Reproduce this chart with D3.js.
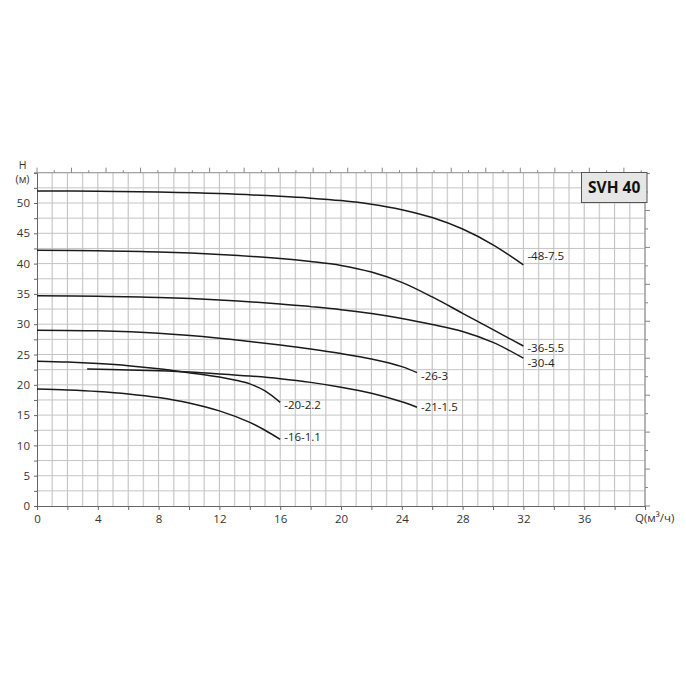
<!DOCTYPE html>
<html><head><meta charset="utf-8">
<script src="https://cdn.jsdelivr.net/npm/d3@7"></script>
<style>
html,body{margin:0;padding:0;background:#fff;}
svg{display:block;font-family:"Open Sans","DejaVu Sans",sans-serif;}
</style></head>
<body><svg id="chart" width="686" height="686"></svg>
<script>
// ---- data ----
const seriesNames = ["-48-7.5","-36-5.5","-30-4","-26-3","-21-1.5","-20-2.2","-16-1.1"];
const q48 = [0,4,8,12,16,18,20,22,24,26,28,30,32];
const h48 = [52.0,51.95,51.8,51.55,51.1,50.8,50.4,49.8,48.9,47.6,45.7,43.1,39.8];
const q36 = [0,4,8,12,16,18,20,22,24,26,28,30,32];
const h36 = [42.2,42.1,41.9,41.5,40.85,40.35,39.7,38.6,36.9,34.5,31.8,29.1,26.4];
const q30 = [0,4,8,12,16,18,20,22,24,26,28,30,32];
const h30 = [34.7,34.6,34.4,34.0,33.35,32.9,32.4,31.75,30.95,29.95,28.8,27.0,24.4];
const q26 = [0,4,8,12,14,16,18,20,22,24,25];
const h26 = [29.0,28.9,28.5,27.7,27.15,26.55,25.9,25.15,24.25,23.0,22.0];
const q21 = [3.3,6,8,10,12,14,16,18,20,22,24,25];
const h21 = [22.6,22.45,22.3,22.1,21.8,21.45,21.0,20.4,19.6,18.6,17.2,16.3];
const q20 = [0,2,4,6,8,10,12,13,14,15,16];
const h20 = [23.9,23.75,23.5,23.15,22.65,22.0,21.3,20.8,20.15,19.0,17.1];
const q16 = [0,2,4,6,8,10,12,14,15,16];
const h16 = [19.3,19.15,18.9,18.5,17.9,17.0,15.7,13.8,12.5,11.0];
const xTicks = [0,4,8,12,16,20,24,28,32,36];
const yTicks = [0,5,10,15,20,25,30,35,40,45,50];
const titleText = "SVH 40";
const xUnitLabel = "Q(м³/ч)";
const yUnitLabel = ["H","(м)"];

// ---- layout / style ----
const labelDy = {"-48-7.5":-9,"-36-5.5":1.5,"-30-4":4.5,"-26-3":3,"-21-1.5":0,"-20-2.2":3,"-16-1.1":-2};
const L = 37, R = 645, T = 172.7, B = 506;
const x = d3.scaleLinear().domain([0,40]).range([L,R]);
const y = d3.scaleLinear().domain([0,55]).range([B,T]);
const svg = d3.select("#chart");
const FONT = "'Open Sans','DejaVu Sans',sans-serif";

// grid
const g = svg.append("g");
g.selectAll("line.v").data(d3.range(1,41)).enter().append("line")
  .attr("x1",d=>x(d)).attr("x2",d=>x(d)).attr("y1",T).attr("y2",B)
  .attr("stroke",d=>d%2? "#d0d0d0":"#bdbdbd").attr("stroke-width",d=>d%2?1.4:1);
g.selectAll("line.h").data(d3.range(1,23).map(i=>i*2.5)).enter().append("line")
  .attr("x1",L).attr("x2",R).attr("y1",d=>y(d)).attr("y2",d=>y(d))
  .attr("stroke","#c4c4c4").attr("stroke-width",1);

// secondary axes (US gpm on top, ft on right) - ticks only
const gpmPerM3h = 4.4029;
const xg = d3.scaleLinear().domain([0,40*gpmPerM3h]).range([L,R]);
const ftPerM = 1/0.3048;
const yf = d3.scaleLinear().domain([0,55*ftPerM]).range([B,T]);
svg.append("line").attr("x1",L).attr("x2",R).attr("y1",T).attr("y2",T).attr("stroke","#9a9a9a");
svg.selectAll("line.tg").data(d3.range(0,40*gpmPerM3h,5)).enter().append("line")
  .attr("x1",d=>xg(d)).attr("x2",d=>xg(d)).attr("y1",T).attr("y2",d=>T-(d%10===0?5:2.5))
  .attr("stroke","#888");
svg.append("line").attr("x1",R).attr("x2",R).attr("y1",T).attr("y2",B).attr("stroke","#8a8a8a");
svg.selectAll("line.rf").data(d3.range(0,55*ftPerM,10)).enter().append("line")
  .attr("y1",d=>yf(d)).attr("y2",d=>yf(d)).attr("x1",R).attr("x2",d=>R+(d%20===0?5:3))
  .attr("stroke","#888");

// primary axes
const xAxis = d3.axisBottom(x).tickValues(d3.range(0,41,2)).tickSize(4)
  .tickFormat(d=> xTicks.includes(d)? d : "");
const ax = svg.append("g").attr("transform",`translate(0,${B})`).call(xAxis);
ax.select(".domain").attr("stroke","#666");
ax.selectAll(".tick line").attr("stroke","#666");
ax.selectAll("text").attr("font-size",11.5).attr("fill","#333").attr("dy","0.9em")
  .attr("font-family",FONT);

const yAxis = d3.axisLeft(y).tickValues(d3.range(0,55.1,2.5)).tickSize(3)
  .tickFormat(d=> yTicks.includes(d)? d : "");
const ay = svg.append("g").attr("transform",`translate(${L},0)`).call(yAxis);
ay.select(".domain").attr("stroke","#666");
ay.selectAll(".tick line").attr("stroke","#666");
ay.selectAll("text").attr("font-size",11.5).attr("fill","#333").attr("x",-7)
  .attr("font-family",FONT);

// curves
const curves = [[q48,h48],[q36,h36],[q30,h30],[q26,h26],[q21,h21],[q20,h20],[q16,h16]];
const line = d3.line().x(d=>x(d[0])).y(d=>y(d[1])).curve(d3.curveCatmullRom.alpha(0.5));
curves.forEach((c,i)=>{
  const pts = c[0].map((q,j)=>[q,c[1][j]]);
  svg.append("path").attr("d",line(pts)).attr("fill","none")
    .attr("stroke","#1a1a1a").attr("stroke-width",1.5);
  const last = pts[pts.length-1];
  svg.append("text").attr("x",x(last[0])+4).attr("y",y(last[1])+labelDy[seriesNames[i]])
    .attr("dy","0.35em").attr("font-size",11.5).attr("fill","#222").text(seriesNames[i]);
});

// unit labels
svg.append("text").attr("x",22.5).attr("y",165.5).attr("dy","0.35em").attr("text-anchor","middle")
  .attr("font-size",10.5).attr("fill","#333").text(yUnitLabel[0]);
svg.append("text").attr("x",22.5).attr("y",179).attr("dy","0.35em").attr("text-anchor","middle")
  .attr("font-size",10.5).attr("fill","#333").text(yUnitLabel[1]);
svg.append("text").attr("x",635).attr("y",517.5).attr("dy","0.35em")
  .attr("font-size",11.5).attr("fill","#333").text(xUnitLabel);

// title box
svg.append("rect").attr("x",581.5).attr("y",172.5).attr("width",65.5).attr("height",30)
  .attr("fill","#e6e6e6").attr("stroke","#555").attr("stroke-width",1);
svg.append("text").attr("x",614.2).attr("y",188).attr("dy","0.35em").attr("text-anchor","middle")
  .attr("font-size",15.5).attr("font-weight","bold").attr("fill","#111").text(titleText);
</script></body></html>
